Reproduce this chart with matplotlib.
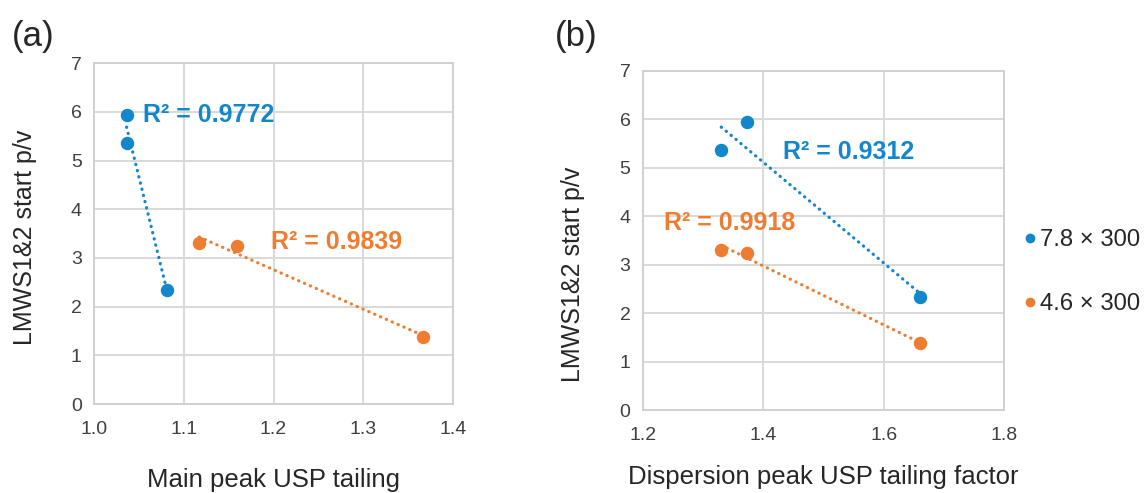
"""
Two-panel scatter: LMWS1&2 start p/v against USP tailing,
with linear trendlines and R² labels for both column sizes.
"""

import matplotlib
matplotlib.use("Agg")
import matplotlib.pyplot as plt
import numpy as np

plt.rcParams["font.family"] = ["Liberation Sans", "DejaVu Sans"]

# ── Data ──────────────────────────────────────────────────────────────────────
series_names = ["7.8 × 300", "4.6 × 300"]

# panel (a): main peak USP tailing
a_x_78 = [1.036, 1.037, 1.081]
a_y_78 = [5.94, 5.36, 2.34]
a_x_46 = [1.117, 1.159, 1.367]
a_y_46 = [3.30, 3.25, 1.38]

# panel (b): dispersion peak USP tailing factor
b_x_78 = [1.373, 1.330, 1.660]
b_y_78 = [5.94, 5.36, 2.34]
b_x_46 = [1.330, 1.373, 1.660]
b_y_46 = [3.30, 3.25, 1.38]

r2_a = ["0.9772", "0.9839"]
r2_b = ["0.9312", "0.9918"]

BLUE = "#1287CB"
ORANGE = "#EE7D31"
GRID = "#D9D9D9"
TXT = "#262626"


def trend(ax, x, y, color):
    k, b = np.polyfit(x, y, 1)
    xs = np.array([min(x), max(x)])
    ax.plot(xs, k * xs + b, color=color, lw=2.3,
            linestyle=(0, (0.1, 1.9)), dash_capstyle="round", zorder=2)


def style(ax, xlim, xticks, xlabel, labelpad):
    ax.set_xlim(*xlim)
    ax.set_ylim(0, 7)
    ax.set_xticks(xticks)
    ax.set_yticks(range(8))
    ax.set_xticklabels([f"{t:.1f}" for t in xticks])
    ax.grid(True, color=GRID, lw=1.4)
    ax.set_axisbelow(True)
    for s in ax.spines.values():
        s.set_color("#D0D0D0")
        s.set_linewidth(1.4)
    ax.tick_params(length=0, labelsize=14, colors="#404040")
    ax.tick_params(axis="x", pad=12)
    ax.tick_params(axis="y", pad=9)
    ax.set_xlabel(xlabel, fontsize=18.5, color=TXT, labelpad=labelpad)
    ax.set_ylabel("LMWS1&2 start p/v", fontsize=18, color=TXT)


fig = plt.figure(figsize=(11.45, 4.93), dpi=100)
ax_a = fig.add_axes([0.0824, 0.1805, 0.3130, 0.6911])
ax_b = fig.add_axes([0.5616, 0.1680, 0.3153, 0.6886])

# ── Panel (a) ─────────────────────────────────────────────────────────────────
trend(ax_a, a_x_78, a_y_78, BLUE)
trend(ax_a, a_x_46, a_y_46, ORANGE)
ax_a.scatter(a_x_78, a_y_78, s=75, color=BLUE, zorder=3)
ax_a.scatter(a_x_46, a_y_46, s=75, color=ORANGE, zorder=3)
ax_a.text(1.054, 5.94, f"R² = {r2_a[0]}", color=BLUE, fontsize=18,
          fontweight="bold", va="center", ha="left")
ax_a.text(1.197, 3.33, f"R² = {r2_a[1]}", color=ORANGE, fontsize=18,
          fontweight="bold", va="center", ha="left")
style(ax_a, (1.0, 1.4), [1.0, 1.1, 1.2, 1.3, 1.4],
      "Main peak USP tailing", 22)
ax_a.yaxis.set_label_coords(-0.16, 0.49)

# ── Panel (b) ─────────────────────────────────────────────────────────────────
trend(ax_b, b_x_78, b_y_78, BLUE)
trend(ax_b, b_x_46, b_y_46, ORANGE)
ax_b.scatter(b_x_78, b_y_78, s=75, color=BLUE, zorder=3)
ax_b.scatter(b_x_46, b_y_46, s=75, color=ORANGE, zorder=3)
ax_b.text(1.433, 5.33, f"R² = {r2_b[0]}", color=BLUE, fontsize=18,
          fontweight="bold", va="center", ha="left")
ax_b.text(1.235, 3.85, f"R² = {r2_b[1]}", color=ORANGE, fontsize=18,
          fontweight="bold", va="center", ha="left")
style(ax_b, (1.2, 1.8), [1.2, 1.4, 1.6, 1.8],
      "Dispersion peak USP tailing factor", 15)
ax_b.yaxis.set_label_coords(-0.161, 0.40)

# panel tags
fig.text(0.010, 0.925, "(a)", fontsize=25, color=TXT, va="center")
fig.text(0.485, 0.925, "(b)", fontsize=25, color=TXT, va="center")

# legend
handles = [plt.Line2D([], [], marker="o", ls="", ms=6, color=c)
           for c in (BLUE, ORANGE)]
fig.legend(handles, series_names, loc="center left",
           bbox_to_anchor=(1023 / 1145, 1 - 272 / 493), frameon=False,
           fontsize=17.2, handlelength=0.55, handletextpad=0.15,
           labelspacing=1.75, borderaxespad=0, borderpad=0, labelcolor=TXT)

plt.savefig("out.png", dpi=100)
plt.close(fig)
